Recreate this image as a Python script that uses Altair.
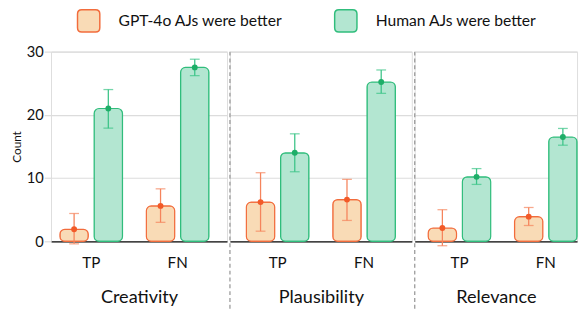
import altair as alt
import pandas as pd

criteria = ["Creativity", "Plausibility", "Relevance"]
metrics = ["TP", "FN"]
series = ["GPT-4o AJs were better", "Human AJs were better"]

# mean values [criterion][metric] for each series
gpt_mean = [[1.9, 5.6], [6.2, 6.6], [2.1, 3.9]]
human_mean = [[21.0, 27.5], [14.0, 25.2], [10.2, 16.5]]
gpt_lo = [[-0.4, 3.0], [1.6, 3.3], [-0.7, 2.5]]
gpt_hi = [[4.4, 8.3], [10.85, 9.8], [5.0, 5.35]]
human_lo = [[17.9, 26.2], [11.0, 23.4], [9.0, 15.2]]
human_hi = [[24.0, 28.8], [17.0, 27.1], [11.5, 17.85]]

rows = []
for i, c in enumerate(criteria):
    for j, m in enumerate(metrics):
        rows.append(dict(criterion=c, metric=m, series=series[0],
                         mean=gpt_mean[i][j], lo=gpt_lo[i][j], hi=gpt_hi[i][j]))
        rows.append(dict(criterion=c, metric=m, series=series[1],
                         mean=human_mean[i][j], lo=human_lo[i][j], hi=human_hi[i][j]))
df = pd.DataFrame(rows)

FONT = "Lato"
TXT = "#111111"
fills = ["#f9dbb6", "#b3e6d1"]
strokes = ["#f26c3c", "#30bd7c"]
err_cols = ["#f5845c", "#3cc488"]
pt_cols = ["#f25a28", "#1eae68"]
GRID = "#dcdcdc"

rounded = ("M -0.62,-1 L 0.62,-1 Q 1,-1 1,-0.62 L 1,0.62 Q 1,1 0.62,1 "
           "L -0.62,1 Q -1,1 -1,0.62 L -1,-0.62 Q -1,-1 -0.62,-1 Z")

# panel layout: (width, outer padding, align)
panels = [(180, 0.156, 0.33), (186, 0.19, 0.5), (166, 0.078, 1.0)]


def panel(i):
    crit = criteria[i]
    w, po, al = panels[i]
    first = i == 0
    x_enc = alt.X("metric:N", sort=metrics,
                  scale=alt.Scale(paddingInner=0.276, paddingOuter=po, align=al),
                  axis=alt.Axis(title=crit, labelAngle=0, labelFontSize=15.5,
                                labelFont=FONT, labelColor=TXT, ticks=False,
                                domainColor="#111111", domainWidth=1.2, labelPadding=15,
                                titleFont=FONT, titleFontSize=18.5,
                                titleFontWeight="normal", titleColor=TXT,
                                titlePadding=17))
    xo_enc = alt.XOffset("series:N", sort=series,
                         scale=alt.Scale(paddingInner=0.171, paddingOuter=0))
    y_scale = alt.Scale(domain=[0, 30])
    if first:
        y_axis = alt.Axis(values=[0, 10, 20, 30], labelFontSize=15, labelFont=FONT,
                          labelColor=TXT, domain=False, tickColor=GRID, tickSize=7,
                          tickWidth=1.2, labelPadding=1, titleFontSize=12,
                          titleFont=FONT, titleFontWeight="normal", titleColor=TXT,
                          titlePadding=3, gridColor=GRID, gridWidth=1.2)
        y_title = "Count"
    else:
        y_axis = alt.Axis(values=[0, 10, 20, 30], labels=False, ticks=False,
                          domain=False, gridColor=GRID, gridWidth=1.2)
        y_title = None
    y_enc = alt.Y("mean:Q", scale=y_scale, title=y_title, axis=y_axis)

    legend = (alt.Legend(title=None, orient="none", direction="horizontal",
                         legendX=26, legendY=-44, padding=0,
                         symbolType=rounded, symbolSize=520, symbolStrokeWidth=1.5,
                         labelFontSize=16, labelFont=FONT, labelColor=TXT,
                         labelOffset=18, columnPadding=50, labelLimit=300)
              if first else None)

    bars = alt.Chart().mark_bar(cornerRadius=5, strokeWidth=1.2).encode(
        x=x_enc, xOffset=xo_enc, y=y_enc,
        fill=alt.Fill("series:N", sort=series,
                      scale=alt.Scale(domain=series, range=fills), legend=legend),
        stroke=alt.Stroke("series:N", sort=series,
                          scale=alt.Scale(domain=series, range=strokes), legend=None),
    )
    layers = [bars]
    for k, s in enumerate(series):
        f = alt.datum.series == s
        layers.append(alt.Chart().mark_rule(color=err_cols[k], strokeWidth=1.3)
                      .encode(x=x_enc, xOffset=xo_enc, y="lo:Q", y2="hi:Q")
                      .transform_filter(f))
        layers.append(alt.Chart().mark_tick(color=err_cols[k], thickness=1.3, size=10)
                      .encode(x=x_enc, xOffset=xo_enc, y="lo:Q").transform_filter(f))
        layers.append(alt.Chart().mark_tick(color=err_cols[k], thickness=1.3, size=10)
                      .encode(x=x_enc, xOffset=xo_enc, y="hi:Q").transform_filter(f))
        layers.append(alt.Chart().mark_circle(color=pt_cols[k], opacity=1, size=36)
                      .encode(x=x_enc, xOffset=xo_enc, y="mean:Q").transform_filter(f))
    if not first:
        sep = (alt.Chart().mark_rule(color="#9a9a9a", strokeDash=[4, 3], strokeWidth=1.3)
               .encode(x=alt.value(0), y=alt.value(0), y2=alt.value(275))
               .transform_filter(alt.datum.series == series[0])
               .transform_filter(alt.datum.metric == metrics[0]))
        layers.append(sep)
    return (alt.layer(*layers, data=df)
            .transform_filter(alt.datum.criterion == crit)
            .properties(width=w, height=194))


chart = (alt.hconcat(*[panel(i) for i in range(3)], spacing=0)
         .resolve_scale(x="independent", xOffset="independent")
         .properties(padding={"left": 2, "top": -3, "right": 0, "bottom": 0})
         .configure_view(stroke=None)
         .configure(background="white"))

chart.save("out.html", embed_options={"renderer": "svg", "actions": False})
